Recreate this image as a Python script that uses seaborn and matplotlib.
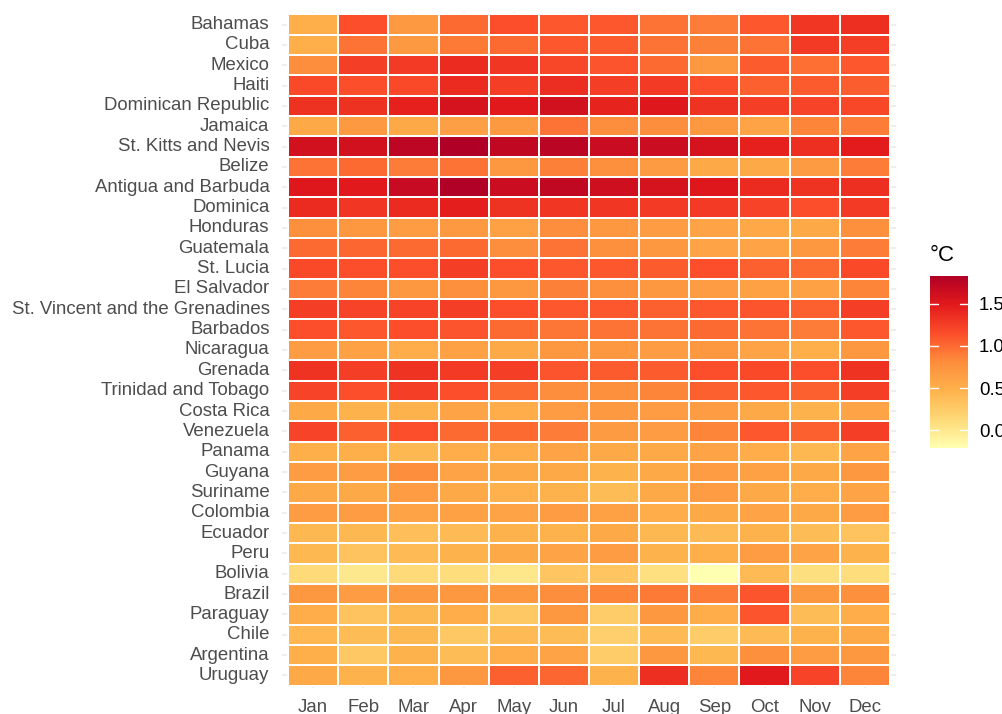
import numpy as np
import pandas as pd
import seaborn as sns
import matplotlib
matplotlib.use("Agg")
import matplotlib.pyplot as plt
from matplotlib.colors import LinearSegmentedColormap

months = ["Jan", "Feb", "Mar", "Apr", "May", "Jun", "Jul", "Aug", "Sep", "Oct", "Nov", "Dec"]

countries = ["Bahamas", "Cuba", "Mexico", "Haiti", "Dominican Republic", "Jamaica",
             "St. Kitts and Nevis", "Belize", "Antigua and Barbuda", "Dominica", "Honduras",
             "Guatemala", "St. Lucia", "El Salvador", "St. Vincent and the Grenadines",
             "Barbados", "Nicaragua", "Grenada", "Trinidad and Tobago", "Costa Rica",
             "Venezuela", "Panama", "Guyana", "Suriname", "Colombia", "Ecuador", "Peru",
             "Bolivia", "Brazil", "Paraguay", "Chile", "Argentina", "Uruguay"]

# temperature anomaly (°C), one list per country, Jan..Dec
bahamas    = [0.50, 1.15, 0.70, 1.00, 1.15, 1.10, 1.10, 0.95, 0.90, 1.10, 1.30, 1.35]
cuba       = [0.50, 0.95, 0.70, 0.92, 1.00, 1.10, 1.08, 0.95, 0.88, 0.95, 1.28, 1.25]
mexico     = [0.80, 1.25, 1.28, 1.38, 1.30, 1.20, 1.12, 1.00, 0.72, 1.08, 0.97, 1.10]
haiti      = [1.18, 1.15, 1.18, 1.38, 1.25, 1.36, 1.25, 1.28, 1.15, 1.05, 1.08, 1.07]
dominican  = [1.33, 1.33, 1.45, 1.58, 1.50, 1.60, 1.43, 1.52, 1.32, 1.25, 1.22, 1.20]
jamaica    = [0.55, 0.70, 0.55, 0.65, 0.70, 0.95, 0.80, 0.80, 0.72, 0.60, 0.85, 0.90]
st_kitts   = [1.60, 1.60, 1.75, 1.83, 1.72, 1.76, 1.67, 1.65, 1.58, 1.45, 1.35, 1.48]
belize     = [0.95, 1.00, 0.90, 0.95, 0.72, 0.88, 0.78, 0.68, 0.55, 0.55, 0.68, 0.90]
antigua    = [1.52, 1.50, 1.68, 1.82, 1.65, 1.72, 1.63, 1.58, 1.52, 1.38, 1.32, 1.35]
dominica   = [1.38, 1.30, 1.38, 1.47, 1.32, 1.30, 1.30, 1.28, 1.28, 1.22, 1.15, 1.28]
honduras   = [0.78, 0.72, 0.67, 0.70, 0.62, 0.80, 0.72, 0.67, 0.60, 0.57, 0.55, 0.78]
guatemala  = [1.00, 1.02, 1.00, 1.00, 0.80, 0.95, 0.78, 0.72, 0.60, 0.60, 0.72, 0.90]
st_lucia   = [1.18, 1.15, 1.15, 1.25, 1.15, 1.10, 1.10, 1.08, 1.15, 1.05, 1.00, 1.18]
el_salv    = [0.90, 0.85, 0.72, 0.78, 0.72, 0.88, 0.78, 0.72, 0.67, 0.62, 0.62, 0.85]
st_vincent = [1.25, 1.22, 1.22, 1.25, 1.15, 1.10, 1.10, 1.05, 1.10, 1.12, 1.05, 1.25]
barbados   = [1.15, 1.10, 1.15, 1.12, 1.00, 0.93, 0.95, 0.95, 1.00, 0.95, 0.90, 1.10]
nicaragua  = [0.67, 0.62, 0.52, 0.62, 0.55, 0.72, 0.72, 0.67, 0.72, 0.60, 0.50, 0.72]
grenada    = [1.32, 1.25, 1.32, 1.28, 1.25, 1.12, 1.08, 1.08, 1.15, 1.18, 1.15, 1.32]
trinidad   = [1.22, 1.15, 1.25, 1.15, 1.00, 0.80, 0.78, 0.85, 1.05, 1.10, 1.05, 1.25]
costa_rica = [0.55, 0.47, 0.47, 0.60, 0.52, 0.67, 0.70, 0.67, 0.67, 0.55, 0.47, 0.60]
venezuela  = [1.22, 1.05, 1.15, 1.00, 1.00, 0.90, 0.68, 0.67, 0.85, 1.10, 1.05, 1.25]
panama     = [0.50, 0.50, 0.42, 0.52, 0.52, 0.60, 0.55, 0.55, 0.60, 0.52, 0.42, 0.60]
guyana     = [0.67, 0.67, 0.80, 0.60, 0.55, 0.55, 0.47, 0.55, 0.67, 0.62, 0.55, 0.72]
suriname   = [0.55, 0.55, 0.67, 0.55, 0.48, 0.47, 0.38, 0.55, 0.67, 0.55, 0.52, 0.60]
colombia   = [0.67, 0.67, 0.60, 0.62, 0.60, 0.67, 0.62, 0.52, 0.55, 0.60, 0.55, 0.67]
ecuador    = [0.42, 0.42, 0.37, 0.40, 0.47, 0.47, 0.55, 0.42, 0.40, 0.47, 0.38, 0.33]
peru       = [0.42, 0.33, 0.40, 0.47, 0.55, 0.60, 0.67, 0.47, 0.50, 0.67, 0.60, 0.47]
bolivia    = [0.12, 0.00, 0.12, 0.10, 0.02, 0.30, 0.30, 0.07, -0.21, 0.40, 0.08, 0.10]
brazil     = [0.72, 0.67, 0.70, 0.72, 0.72, 0.80, 0.85, 0.92, 0.90, 1.12, 0.72, 0.78]
paraguay   = [0.52, 0.33, 0.42, 0.52, 0.28, 0.72, 0.25, 0.72, 0.52, 1.12, 0.38, 0.52]
chile      = [0.43, 0.38, 0.42, 0.28, 0.40, 0.38, 0.22, 0.40, 0.25, 0.40, 0.47, 0.55]
argentina  = [0.50, 0.28, 0.47, 0.38, 0.52, 0.60, 0.25, 0.72, 0.42, 0.78, 0.67, 0.72]
uruguay    = [0.55, 0.47, 0.50, 0.72, 1.05, 1.02, 0.47, 1.35, 0.85, 1.50, 1.22, 0.85]

rows = [bahamas, cuba, mexico, haiti, dominican, jamaica, st_kitts, belize, antigua,
        dominica, honduras, guatemala, st_lucia, el_salv, st_vincent, barbados, nicaragua,
        grenada, trinidad, costa_rica, venezuela, panama, guyana, suriname, colombia,
        ecuador, peru, bolivia, brazil, paraguay, chile, argentina, uruguay]

cbar_ticks = [0.0, 0.5, 1.0, 1.5]
cbar_labels = ["0.0", "0.5", "1.0", "1.5"]

sns.set_theme(style="white")
plt.rcParams["font.family"] = ["Liberation Sans", "DejaVu Sans"]

df = pd.DataFrame(rows, index=countries, columns=months)

cmap = LinearSegmentedColormap.from_list(
    "ylorrd7", ["#FFFFB2", "#FED976", "#FEB24C", "#FD8D3C", "#FC4E2A", "#E31A1C", "#B10026"])

fig = plt.figure(figsize=(10.03, 7.14), dpi=100)
ax = fig.add_axes([282 / 1003, 1 - 688 / 714, (896 - 282) / 1003, (688 - 12) / 714])
cax = fig.add_axes([930 / 1003, 1 - 448 / 714, 38 / 1003, 172 / 714])

sns.heatmap(df, ax=ax, cbar_ax=cax, cmap=cmap, linewidths=1.2, linecolor="white")

nr, nc = df.shape
for i in range(nr):
    ax.axhline(i + 0.5, color="#EBEBEB", lw=1.2, zorder=0)
for j in range(nc):
    ax.axvline(j + 0.5, color="#EBEBEB", lw=1.2, zorder=0)
ax.set_xlim(-0.12, nc + 0.12)
ax.set_ylim(nr + 0.12, -0.12)
ax.set_xlabel("")
ax.set_ylabel("")
ax.tick_params(axis="both", length=0, labelsize=13.4, labelcolor="#4D4D4D")
ax.tick_params(axis="y", pad=9)
ax.tick_params(axis="x", pad=8)
plt.setp(ax.get_yticklabels(), rotation=0)
plt.setp(ax.get_xticklabels(), rotation=0)
for s in ax.spines.values():
    s.set_visible(False)

cbar = ax.collections[0].colorbar
cbar.outline.set_visible(False)
cbar.set_ticks(cbar_ticks)
cbar.set_ticklabels(cbar_labels)
cax.tick_params(length=0, labelsize=13.4, labelcolor="black", pad=8)
for v in cbar_ticks:
    cax.plot([0.0, 0.2], [v, v], color="white", lw=1, transform=cax.get_yaxis_transform())
    cax.plot([0.8, 1.0], [v, v], color="white", lw=1, transform=cax.get_yaxis_transform())
fig.text(930 / 1003, 1 - 255 / 714, "°C", fontsize=16, color="black", va="center", ha="left")

fig.savefig("out.png", dpi=100)
